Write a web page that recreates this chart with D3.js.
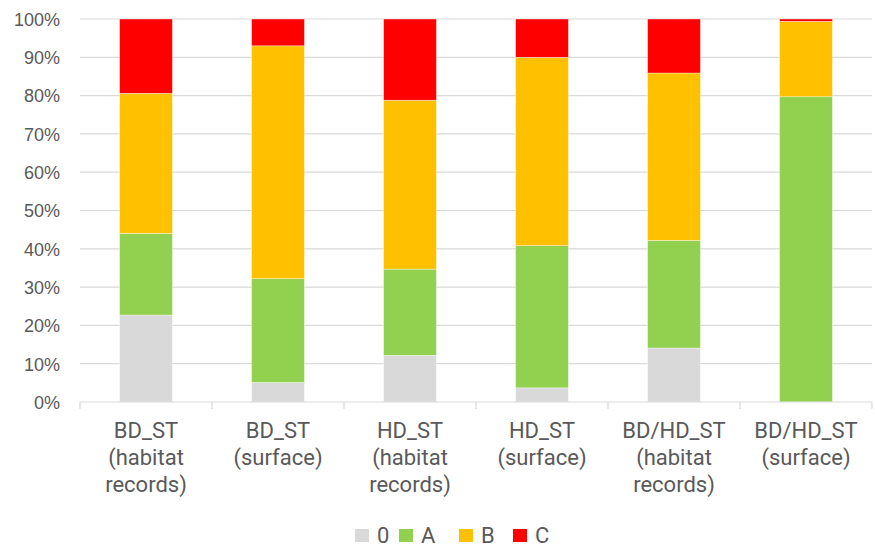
<!DOCTYPE html>
<html>
<head>
<meta charset="utf-8">
<script src="https://cdn.jsdelivr.net/npm/d3@7"></script>
<style>
  html, body { margin: 0; padding: 0; background: #fff; }
  svg { display: block; }
  text { font-family: Roboto, "Liberation Sans", Arial, sans-serif; fill: #595959; }
</style>
</head>
<body>
<svg id="chart" width="875" height="547"></svg>
<script>
// Category labels (multi-line) and the share of each class per category (%)
const categories = [
  ["BD_ST", "(habitat", "records)"],
  ["BD_ST", "(surface)"],
  ["HD_ST", "(habitat", "records)"],
  ["HD_ST", "(surface)"],
  ["BD/HD_ST", "(habitat", "records)"],
  ["BD/HD_ST", "(surface)"]
];
const seriesKeys = ["0", "A", "B", "C"];
const values0 = [22.7, 5.1, 12.2, 3.7, 14.1, 0.0];
const valuesA = [21.3, 27.1, 22.5, 37.1, 28.1, 79.7];
const valuesB = [36.6, 60.8, 44.1, 49.2, 43.7, 19.7];
const valuesC = [19.4, 7.0, 21.2, 10.0, 14.1, 0.6];
const seriesColors = ["#d9d9d9", "#92d050", "#ffc000", "#ff0000"];
const yTicks = [0, 10, 20, 30, 40, 50, 60, 70, 80, 90, 100];

const rows = categories.map((c, i) => ({
  id: i,
  "0": values0[i], "A": valuesA[i], "B": valuesB[i], "C": valuesC[i]
}));

const svg = d3.select("#chart");
const margin = { left: 80, right: 3, top: 19, bottom: 145 };
const W = 875, H = 547;
const innerW = W - margin.left - margin.right;
const innerH = H - margin.top - margin.bottom;

const x = d3.scaleBand().domain(rows.map(d => d.id)).range([margin.left, margin.left + innerW])
  .paddingInner(0.6).paddingOuter(0.3);
const xOuter = d3.scaleBand().domain(rows.map(d => d.id)).range([margin.left, margin.left + innerW]);
const y = d3.scaleLinear().domain([0, 100]).range([margin.top + innerH, margin.top]);

// gridlines
svg.append("g").selectAll("line").data(yTicks.filter(t => t > 0)).join("line")
  .attr("x1", margin.left).attr("x2", margin.left + innerW)
  .attr("y1", d => y(d)).attr("y2", d => y(d))
  .attr("stroke", "#d9d9d9").attr("stroke-width", 1.2);

// y axis labels
const yAxis = d3.axisLeft(y).tickValues(yTicks).tickFormat(d => d + "%").tickSize(0).tickPadding(20);
const gy = svg.append("g").attr("transform", `translate(${margin.left},0)`).call(yAxis);
gy.select(".domain").remove();
gy.selectAll("text").style("font-size", "18px").style("fill", "#595959")
  .style("font-family", '"Liberation Sans", Arial, sans-serif').attr("dy", "0.35em");

// stacked bars
const stack = d3.stack().keys(seriesKeys);
const stacked = stack(rows);
svg.append("g").selectAll("g").data(stacked).join("g")
  .attr("fill", (d, i) => seriesColors[i])
  .selectAll("rect").data(d => d).join("rect")
  .attr("x", d => x(d.data.id))
  .attr("width", x.bandwidth())
  .attr("y", d => y(d[1]))
  .attr("height", d => y(d[0]) - y(d[1]))
  .attr("stroke", "#ffffff").attr("stroke-width", 0.6).attr("stroke-opacity", 0.6);

// x axis baseline with category separators
const base = y(0);
svg.append("line").attr("x1", margin.left).attr("x2", margin.left + innerW)
  .attr("y1", base).attr("y2", base).attr("stroke", "#d9d9d9").attr("stroke-width", 1.2);
const seps = rows.map(d => xOuter(d.id)).concat([margin.left + innerW]);
svg.append("g").selectAll("line").data(seps).join("line")
  .attr("x1", d => d).attr("x2", d => d)
  .attr("y1", base).attr("y2", base + 7)
  .attr("stroke", "#d9d9d9").attr("stroke-width", 1.2);

// category labels
const labelG = svg.append("g");
categories.forEach((lines, i) => {
  const cx = xOuter(i) + xOuter.bandwidth() / 2;
  lines.forEach((t, j) => {
    labelG.append("text")
      .attr("x", cx).attr("y", 438 + j * 27)
      .attr("text-anchor", "middle")
      .style("font-size", "22px")
      .text(t);
  });
});

// legend
const legendX = [355, 399, 459, 513];
const lg = svg.append("g");
seriesKeys.forEach((k, i) => {
  lg.append("rect").attr("x", legendX[i]).attr("y", 529).attr("width", 14).attr("height", 13)
    .attr("fill", seriesColors[i]);
  lg.append("text")
    .attr("x", legendX[i] + 22).attr("y", 543)
    .style("font-size", "22px")
    .text(k);
});
</script>
</body>
</html>
